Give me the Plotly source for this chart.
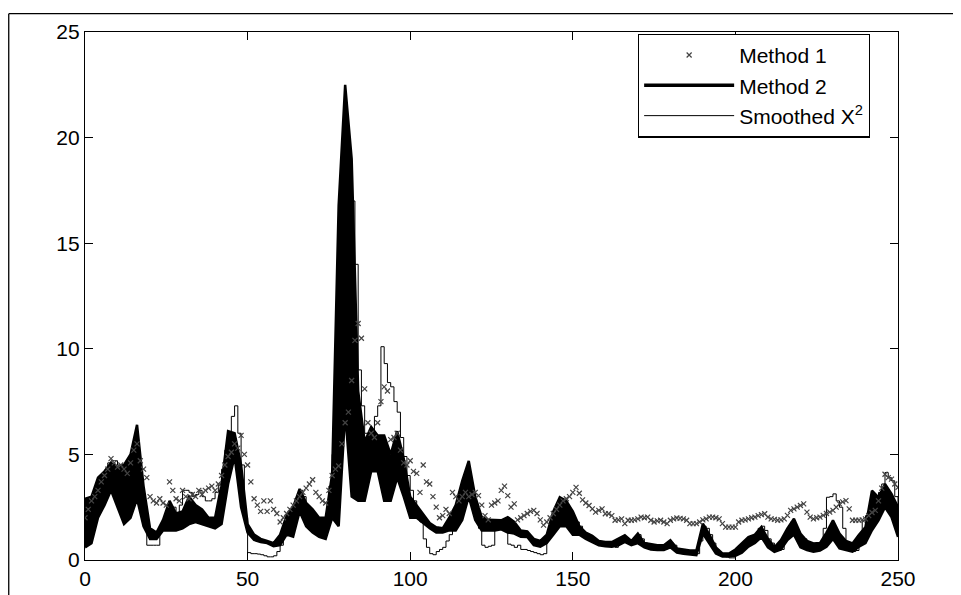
import plotly.graph_objects as go

# ---------------- data ----------------
x_idx = list(range(0, 251))

method1 = [2.0, 2.4, 2.8, 3.0, 3.3, 3.7, 4.0, 4.3, 4.8, 4.6,
           4.4, 4.5, 4.3, 4.1, 4.6, 5.2, 5.5, 4.7, 4.3, 3.9,
           3.0, 2.8, 2.7, 2.9, 2.7, 2.6, 3.7, 3.3, 2.9, 2.8,
           3.3, 3.0, 2.9, 3.1, 3.0, 3.3, 3.1, 3.3, 3.4, 3.5,
           3.3, 3.6, 4.0, 4.5, 4.9, 5.1, 5.5, 5.3, 5.9, 5.0,
           4.5, 3.7, 2.9, 2.6, 2.3, 2.8, 2.3, 2.8, 2.4, 2.2,
           1.8, 2.0, 2.2, 2.4, 2.6, 2.8, 3.0, 3.2, 3.4, 3.6,
           3.8, 3.2, 3.0, 2.8, 2.7, 3.3, 4.0, 4.3, 4.45, 5.5,
           6.5, 7.0, 8.5, 10.4, 11.2, 10.5, 8.1, 6.5, 6.0, 5.8,
           6.5, 7.5, 8.2, 8.0, 5.7, 5.8, 6.0, 5.2, 4.6, 4.5,
           4.7, 4.2, 4.1, 3.2, 4.5, 3.7, 3.6, 3.0, 2.5, 2.0,
           2.1, 2.4, 2.2, 3.2, 3.0, 2.8, 3.0, 3.2, 3.0, 3.1,
           3.2, 3.05, 2.6, 2.1, 1.9, 2.6, 2.7, 2.8, 3.3, 3.5,
           3.05, 2.5, 2.66, 1.9, 2.0, 2.1, 2.2, 2.3, 2.35, 2.2,
           1.9, 1.65, 1.8, 2.0, 2.2, 2.4, 2.6, 2.8, 2.9, 3.0,
           3.2, 3.44, 3.16, 2.85, 2.7, 2.58, 2.42, 2.27, 2.35, 2.42,
           2.19, 2.19, 2.1, 1.88, 1.9, 1.95, 1.72, 1.88, 1.88, 1.9,
           1.95, 2.03, 2.0, 2.03, 1.88, 1.8, 1.85, 1.88, 1.8, 1.72,
           1.88, 1.95, 1.99, 1.97, 1.95, 1.88, 1.72, 1.72, 1.72, 1.8,
           1.9, 1.95, 2.03, 2.03, 2.0, 1.95, 1.72, 1.56, 1.56, 1.56,
           1.56, 1.8, 1.88, 1.9, 1.95, 2.0, 2.03, 2.1, 2.15, 2.19,
           2.03, 1.95, 1.92, 1.88, 1.9, 1.95, 2.11, 2.35, 2.42, 2.5,
           2.58, 2.66, 2.27, 2.03, 1.95, 2.0, 2.03, 2.11, 2.2, 2.27,
           2.35, 2.5, 2.66, 2.75, 2.81, 2.42, 1.88, 1.88, 1.88, 1.9,
           1.95, 2.1, 2.25, 2.35, 2.8, 3.4, 4.06, 3.9, 3.83, 3.6,
           3.44]

smoothed = [1.6, 2.0, 2.4, 2.9, 3.4, 3.9, 4.2, 4.6, 4.7, 4.7,
            4.5, 4.5, 4.4, 3.8, 3.4, 3.6, 4.0, 3.0, 1.8, 0.7,
            0.7, 0.7, 0.7, 1.4, 1.5, 1.7, 2.2, 2.5, 2.2, 2.6,
            3.3, 3.3, 3.2, 3.0, 3.1, 3.3, 3.0, 2.8, 2.8, 2.9,
            3.2, 3.6, 4.3, 5.2, 6.0, 6.8, 7.3, 6.0, 4.5, 2.0,
            0.35, 0.3, 0.3, 0.28, 0.25, 0.2, 0.15, 0.15, 0.2, 0.4,
            0.7, 1.4, 1.8, 2.0, 2.4, 3.0, 3.3, 3.0, 2.5, 2.2,
            2.0, 1.8, 1.7, 1.8, 2.0, 3.5, 5.0, 7.3, 10.0, 12.3,
            15.0, 17.5, 17.0, 14.0, 9.0, 7.3, 6.0, 5.5, 6.0, 6.8,
            7.3, 10.1, 9.3, 8.4, 8.2, 7.5, 7.0, 5.8, 4.9, 4.0,
            3.3, 2.8, 2.4, 1.8, 1.0, 0.6, 0.3, 0.25, 0.4, 0.5,
            0.6, 0.9, 1.2, 2.3, 2.5, 2.7, 3.0, 3.6, 3.3, 2.5,
            1.9, 1.5, 0.7, 0.6, 0.65, 0.7, 1.6, 1.9, 1.9, 1.9,
            0.75, 0.7, 0.6, 0.7, 0.5, 0.5, 0.45, 0.4, 0.35, 0.3,
            0.25, 0.3, 1.2, 1.7, 2.0, 2.3, 2.5, 2.4, 2.2, 2.0,
            1.9, 1.8, 1.6, 1.3, 1.1, 1.0, 0.9, 0.85, 0.8, 0.75,
            0.7, 0.7, 0.65, 0.6, 0.75, 0.9, 1.0, 0.9, 0.8, 1.1,
            1.2, 1.0, 0.8, 0.7, 0.6, 0.55, 0.5, 0.5, 0.5, 0.6,
            0.8, 0.7, 0.5, 0.45, 0.4, 0.35, 0.35, 0.3, 0.3, 0.9,
            1.6, 1.5, 1.2, 0.8, 0.5, 0.3, 0.2, 0.15, 0.1, 0.1,
            0.3, 0.5, 0.6, 0.7, 0.8, 0.9, 1.2, 1.5, 1.6, 1.4,
            1.0, 0.8, 0.5, 0.45, 0.5, 0.9, 1.5, 1.8, 1.6, 1.3,
            1.1, 1.0, 0.8, 0.7, 0.6, 0.55, 0.6, 1.5, 2.97, 3.0,
            3.13, 2.8, 2.5, 1.5, 0.45, 0.4, 0.4, 0.45, 1.0, 1.88,
            2.1, 2.4, 2.6, 2.8, 3.2, 3.6, 4.14, 3.9, 3.75, 3.0,
            1.25]

x_m2 = list(range(0, 251, 2))

method2_upper = [2.9, 3.0, 3.9, 4.2, 4.6, 4.4, 4.5, 5.0, 6.4, 3.5,
                 1.5, 1.3, 1.9, 2.8, 2.2, 2.3, 3.0, 2.6, 2.4, 2.0,
                 2.0, 3.6, 6.1, 6.0, 4.5, 1.7, 1.2, 1.0, 0.9, 0.8,
                 1.2, 2.1, 2.5, 3.36, 2.7, 2.4, 2.0, 2.0, 4.06, 16.8,
                 22.5, 19.0, 8.0, 5.6, 6.3, 5.9, 5.9, 5.0, 6.1, 4.8,
                 3.0, 2.6, 2.2, 1.75, 1.55, 1.5, 2.0, 2.6, 3.75, 4.69,
                 3.0, 2.03, 1.9, 1.88, 1.88, 2.03, 1.8, 1.4, 1.35, 1.0,
                 0.9, 1.2, 2.3, 2.97, 2.8, 2.3, 1.6, 1.3, 1.15, 0.9,
                 0.85, 0.85, 1.0, 1.17, 0.9, 1.25, 0.8, 0.75, 0.7, 0.7,
                 0.94, 0.55, 0.5, 0.45, 0.45, 1.72, 1.2, 0.6, 0.31, 0.31,
                 0.5, 0.78, 1.09, 1.2, 1.56, 1.0, 0.6, 0.94, 1.5, 1.95,
                 1.25, 0.9, 0.78, 0.8, 1.3, 1.88, 1.25, 0.9, 0.78, 1.2,
                 1.56, 3.28, 2.97, 3.6, 3.13, 2.5]

method2_lower = [0.6, 0.8, 2.0, 2.6, 3.3, 2.5, 1.7, 2.0, 2.9, 1.6,
                 1.0, 1.0, 1.4, 1.4, 1.4, 1.5, 1.7, 1.8, 1.7, 1.6,
                 1.5, 1.7, 3.6, 4.9, 2.5, 1.3, 0.95, 0.85, 0.8, 0.65,
                 0.7, 1.2, 1.1, 2.3, 1.6, 1.3, 1.1, 1.0, 2.0, 1.6,
                 7.0, 3.0, 2.8, 2.8, 4.2, 4.2, 2.8, 2.8, 3.9, 3.0,
                 2.0, 2.0, 1.75, 1.5, 1.3, 1.3, 1.4, 1.4, 1.9, 3.0,
                 1.9, 1.4, 1.4, 1.4, 1.45, 1.3, 1.25, 1.1, 1.09, 0.7,
                 0.63, 0.8, 1.2, 1.6, 1.6, 1.2, 1.2, 1.0, 0.85, 0.7,
                 0.65, 0.63, 0.7, 0.86, 0.7, 0.8, 0.6, 0.5, 0.47, 0.47,
                 0.6, 0.35, 0.3, 0.25, 0.23, 1.25, 0.8, 0.31, 0.16, 0.16,
                 0.2, 0.35, 0.63, 0.8, 1.09, 0.6, 0.39, 0.5, 0.94, 1.2,
                 0.6, 0.47, 0.39, 0.45, 0.63, 1.0, 0.55, 0.47, 0.39, 0.63,
                 0.8, 1.41, 1.88, 2.5, 2.03, 1.09]

x_ticks = [0, 50, 100, 150, 200, 250]
y_ticks = [0, 5, 10, 15, 20, 25]

FONT = "Liberation Sans, Arial, sans-serif"

# ---------------- figure ----------------
fig = go.Figure()

# Smoothed X^2 (thin line)
fig.add_trace(go.Scatter(
    x=x_idx, y=smoothed, mode="lines", name="Smoothed X<sup>2</sup>",
    line=dict(color="black", width=1, shape="hv"), legendrank=3))

# Method 2 (thick jagged line, drawn as a band between its envelopes)
fig.add_trace(go.Scatter(
    x=x_m2, y=method2_lower, mode="lines", showlegend=False,
    line=dict(color="black", width=2.5), hoverinfo="skip"))
fig.add_trace(go.Scatter(
    x=x_m2, y=method2_upper, mode="lines", showlegend=False,
    fill="tonexty", fillcolor="black",
    line=dict(color="black", width=2.5)))
fig.add_trace(go.Scatter(
    x=[None], y=[None], mode="lines", name="Method 2",
    line=dict(color="black", width=3.5), legendrank=2))

# Method 1 (small x markers)
fig.add_trace(go.Scatter(
    x=x_idx, y=method1, mode="markers", name="Method 1",
    marker=dict(symbol="x-thin", size=5, color="#444",
                line=dict(color="#444", width=1.2)),
    legendrank=1))

# the page body adds an 8px offset; margins compensate so the axes box
# lands at x 85..898, y 27..560 of the screenshot
fig.update_layout(
    width=961, height=595,
    margin=dict(l=77, r=71, t=19, b=43),
    paper_bgcolor="white", plot_bgcolor="white",
    font=dict(family=FONT, size=20, color="black"),
    showlegend=True,
    legend=dict(x=0.68, y=0.997, xanchor="left", yanchor="top",
                traceorder="normal",
                bgcolor="white", bordercolor="black", borderwidth=1.3,
                font=dict(family=FONT, size=21, color="black"),
                tracegroupgap=0, itemwidth=90),
)

fig.update_xaxes(range=[0, 250], tickvals=x_ticks, ticktext=[str(v) for v in x_ticks],
                 showline=True, linecolor="black", linewidth=1.3, mirror="ticks",
                 ticks="inside", ticklen=8, tickcolor="black", tickwidth=1.3,
                 showgrid=False, zeroline=False, tickfont=dict(size=21))
fig.update_yaxes(range=[0, 25], tickvals=y_ticks, ticktext=[str(v) for v in y_ticks],
                 showline=True, linecolor="black", linewidth=1.3, mirror="ticks",
                 ticks="inside", ticklen=8, tickcolor="black", tickwidth=1.3,
                 showgrid=False, zeroline=False, tickfont=dict(size=21))

# outer (cropped) figure frame: left and top edges
fig.add_shape(type="line", xref="paper", yref="paper",
              x0=-0.0938, x1=-0.0938, y0=-0.09, y1=1.0347,
              line=dict(color="black", width=1.3))
fig.add_shape(type="line", xref="paper", yref="paper",
              x0=-0.0938, x1=1.1, y0=1.0347, y1=1.0347,
              line=dict(color="black", width=1.3))

fig.write_html("out.html")
